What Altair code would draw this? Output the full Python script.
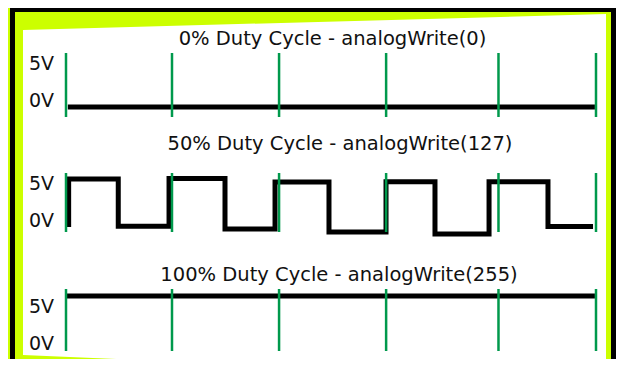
import altair as alt
import pandas as pd

# ---------------- data ----------------
# period boundaries (green markers), time in PWM periods
tick_t = [0.0, 1.0, 2.01, 3.02, 4.08, 5.0]

# 0% duty cycle: constant 0 V
off_t = [0.017, 4.99]
off_v = [0.0, 0.0]

# 50% duty cycle: step-after points (time in periods, volts)
pwm_t = [0.025, 0.025, 0.493, 0.972, 1.5, 1.972, 2.481, 3.019, 3.481, 3.991, 4.547, 4.972]
pwm_v = [0.63, 4.91, 0.69, 4.96, 0.45, 4.64, 0.18, 4.67, 0.0, 4.67, 0.67, 0.67]

# 100% duty cycle: constant 5 V
on_t = [0.0, 4.99]
on_v = [5.0, 5.0]

titles = [
    "0% Duty Cycle - analogWrite(0)",
    "50% Duty Cycle - analogWrite(127)",
    "100% Duty Cycle - analogWrite(255)",
]
level_labels = ["5V", "0V"]

# decoration: tilted white sheet corners
sheet = {"px": [15, 598], "top": [22, 6], "bottom": [347, 372]}

# ---------------- style ----------------
W, H = 608, 351
LIME = "#CCFF00"
GREEN = "#00994C"
INK = "#111111"
FONT = "DejaVu Sans"

x_sc = alt.Scale(domain=[0, 5], range=[58, 588], nice=False, zero=False)


def panel(t, v, yscale, tick_y, title, title_xy, lab_x, lab_y, step=False):
    df = pd.DataFrame({"t": t, "v": v, "i": list(range(len(t)))})
    line = alt.Chart(df).mark_line(
        color="black", strokeWidth=5, strokeJoin="miter", strokeCap="butt",
        interpolate="step-after" if step else "linear",
    ).encode(
        x=alt.X("t:Q", scale=x_sc, axis=None),
        y=alt.Y("v:Q", scale=yscale, axis=None),
        order="i:Q",
    )
    ticks = alt.Chart(pd.DataFrame({"t": tick_t})).mark_rule(
        color=GREEN, strokeWidth=2.5
    ).encode(
        x=alt.X("t:Q", scale=x_sc, axis=None),
        y=alt.value(tick_y[0]),
        y2=alt.value(tick_y[1]),
    )
    ttl = alt.Chart(pd.DataFrame({"s": [title]})).mark_text(
        font=FONT, fontSize=19.5, align="center", baseline="alphabetic", color=INK
    ).encode(text="s:N", x=alt.value(title_xy[0]), y=alt.value(title_xy[1]))
    labs = []
    for lab, ly in zip(level_labels, lab_y):
        labs.append(
            alt.Chart(pd.DataFrame({"s": [lab]})).mark_text(
                font=FONT, fontSize=19, align="left", baseline="alphabetic", color=INK
            ).encode(text="s:N", x=alt.value(lab_x), y=alt.value(ly))
        )
    return alt.layer(line, ticks, ttl, *labs)


one = pd.DataFrame({"a": [0]})

back = alt.Chart(pd.DataFrame(sheet)).mark_area(color="white").encode(
    x=alt.X("px:Q", scale=alt.Scale(domain=[0, W], range=[0, W], nice=False, zero=False), axis=None),
    y=alt.Y("top:Q", scale=alt.Scale(domain=[0, H], range=[0, H], nice=False, zero=False), axis=None),
    y2="bottom:Q",
)

frame_left = alt.Chart(one).mark_rect(color="black").encode(
    x=alt.value(2), x2=alt.value(7), y=alt.value(0), y2=alt.value(H))
frame_top = alt.Chart(one).mark_rect(color="black").encode(
    x=alt.value(2), x2=alt.value(W), y=alt.value(0), y2=alt.value(4))
frame_right = alt.Chart(one).mark_rect(color="black").encode(
    x=alt.value(603), x2=alt.value(W), y=alt.value(0), y2=alt.value(H))

p_top = panel(off_t, off_v, alt.Scale(domain=[0, 5], range=[99, 51], nice=False),
              (45, 109), titles[0], (324.5, 37), 21, (62, 98.7))
p_mid = panel(pwm_t, pwm_v, alt.Scale(domain=[0, 5], range=[226, 170], nice=False),
              (165, 224), titles[1], (332, 142), 21, (182, 218.7), step=True)
p_bot = panel(on_t, on_v, alt.Scale(domain=[0, 5], range=[336, 288], nice=False),
              (281, 343), titles[2], (331, 273), 21, (305, 341.7))

chart = alt.layer(
    back, frame_left, frame_top, frame_right, p_top, p_mid, p_bot
).resolve_scale(x="independent", y="independent").properties(
    width=W, height=H, padding=0, autosize="none", background=LIME
).configure_view(stroke=None)

chart.save("out.html", embed_options={"renderer": "svg", "actions": False})
